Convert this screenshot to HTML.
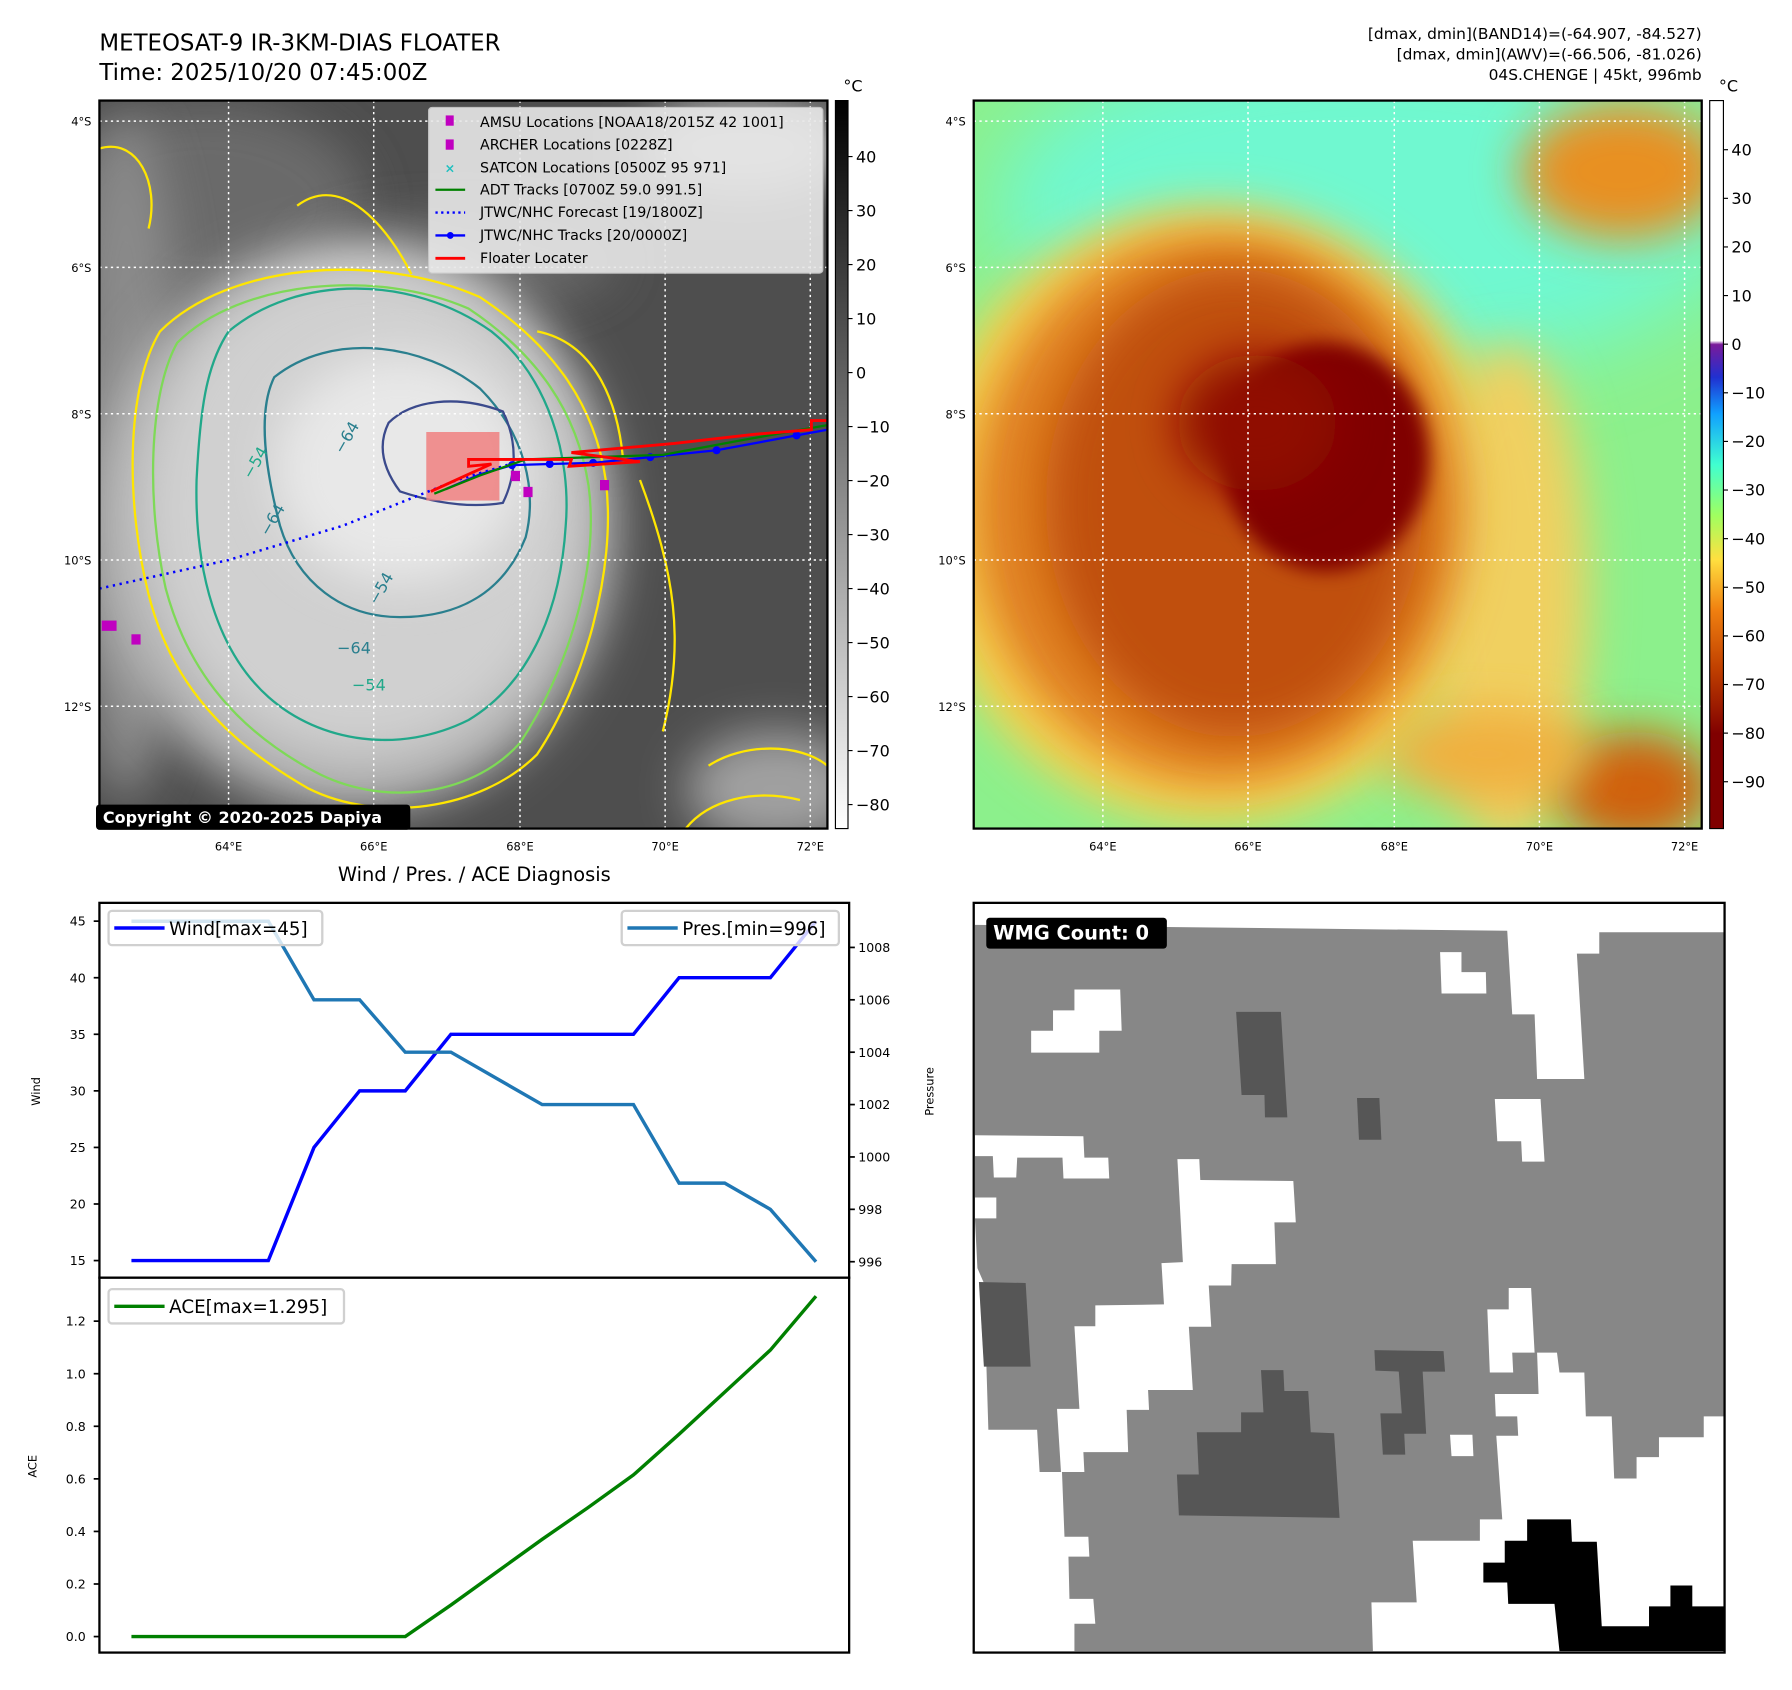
<!DOCTYPE html>
<html><head><meta charset="utf-8"><style>
html,body{margin:0;padding:0;background:#fff;}
svg{display:block;font-family:"DejaVu Sans","Liberation Sans",sans-serif;}
</style></head><body>
<svg id="root" width="1792" height="1690" viewBox="0 0 1568 1478.75" xmlns="http://www.w3.org/2000/svg">
<defs>
<filter id="blur8" x="-50%" y="-50%" width="200%" height="200%"><feGaussianBlur stdDeviation="8"/></filter>
<filter id="blur20" x="-50%" y="-50%" width="200%" height="200%"><feGaussianBlur stdDeviation="20"/></filter>
<filter id="blur35" x="-50%" y="-50%" width="200%" height="200%"><feGaussianBlur stdDeviation="35"/></filter>
<clipPath id="clipL"><rect x="87" y="88" width="637" height="637"/></clipPath>
<clipPath id="clipR"><rect x="852" y="88" width="637" height="637"/></clipPath>
<linearGradient id="cbGray" x1="0" y1="0" x2="0" y2="1"><stop offset="0" stop-color="#000"/><stop offset="1" stop-color="#fff"/></linearGradient>
<linearGradient id="cbJet" x1="0" y1="0" x2="0" y2="1">
<stop offset="0" stop-color="#fff"/><stop offset="0.33" stop-color="#fff"/>
<stop offset="0.335" stop-color="#7a1a9a"/><stop offset="0.38" stop-color="#2030d0"/>
<stop offset="0.43" stop-color="#10a0ff"/><stop offset="0.5" stop-color="#40ffd0"/>
<stop offset="0.57" stop-color="#a0ff60"/><stop offset="0.63" stop-color="#ffe040"/>
<stop offset="0.7" stop-color="#f08010"/><stop offset="0.78" stop-color="#c04000"/>
<stop offset="0.87" stop-color="#800000"/><stop offset="1" stop-color="#800000"/></linearGradient>
</defs>

<text x="87" y="44" font-size="20">METEOSAT-9 IR-3KM-DIAS FLOATER</text>
<text x="87" y="70" font-size="20">Time: 2025/10/20 07:45:00Z</text>
<g font-size="13.5" text-anchor="end">
<text x="1489" y="34">[dmax, dmin](BAND14)=(-64.907, -84.527)</text>
<text x="1489" y="52">[dmax, dmin](AWV)=(-66.506, -81.026)</text>
<text x="1489" y="70">04S.CHENGE | 45kt, 996mb</text>
</g>

<!-- LEFT MAP -->
<g clip-path="url(#clipL)">
<rect x="87" y="88" width="637" height="637" fill="#4e4e4e"/>
<ellipse cx="180" cy="180" rx="140" ry="90" fill="#6a6a6a" filter="url(#blur20)"/>
<ellipse cx="400" cy="230" rx="140" ry="40" fill="#666" filter="url(#blur20)"/>
<ellipse cx="110" cy="400" rx="50" ry="300" fill="#8a8a8a" filter="url(#blur20)"/>
<ellipse cx="680" cy="690" rx="80" ry="50" fill="#a0a0a0" filter="url(#blur20)"/>
<ellipse cx="310" cy="460" rx="230" ry="250" fill="#b4b4b4" filter="url(#blur20)"/>
<ellipse cx="315" cy="445" rx="190" ry="215" fill="#d0d0d0" filter="url(#blur20)"/>
<ellipse cx="350" cy="410" rx="110" ry="100" fill="#e8e8e8" filter="url(#blur20)"/>
<ellipse cx="650" cy="130" rx="90" ry="40" fill="#c0c0c0" filter="url(#blur20)"/>
<g fill="none" stroke-width="2">
<path d="M140,290 C200,230 330,220 420,260 C480,300 520,350 530,420 C540,500 510,600 470,660 C420,710 330,720 270,690 C200,650 150,600 130,520 C110,440 110,340 140,290 Z" stroke="#ffe600"/>
<path d="M155,300 C210,245 330,235 410,270 C470,310 505,360 515,425 C525,500 495,590 455,650 C410,700 330,705 275,675 C210,640 165,590 145,515 C128,440 130,345 155,300 Z" stroke="#7ed957"/>
<path d="M200,290 C260,240 360,240 430,290 C480,330 500,400 495,460 C490,540 460,600 410,630 C350,660 280,650 235,610 C190,570 170,500 172,420 C175,360 180,320 200,290 Z" stroke="#21a88a"/>
<path d="M240,330 C290,290 370,300 420,340 C460,380 470,430 460,470 C440,520 400,540 350,540 C300,540 260,510 245,460 C232,410 225,360 240,330 Z" stroke="#2a7f8e"/>
<path d="M340,370 C360,350 400,345 440,360 C455,390 450,420 440,440 C410,445 380,440 350,430 C335,410 330,390 340,370 Z" stroke="#3b4a8c"/>
<path d="M87,130 C120,120 140,160 130,200 M260,180 C300,150 340,200 360,240 M470,290 C520,300 540,350 545,400 M560,420 C590,500 600,560 580,640" stroke="#ffe600"/>
<path d="M620,670 C650,650 700,650 724,670 M600,725 C620,700 660,690 700,700" stroke="#ffe600"/>
</g>
<g font-size="14" fill="#2a7f8e">
<text x="300" y="398" transform="rotate(-60 300 398)">−64</text>
<text x="235" y="470" transform="rotate(-60 235 470)">−64</text>
<text x="330" y="530" transform="rotate(-60 330 530)">−54</text>
<text x="295" y="572">−64</text>
<text x="308" y="604" fill="#21a88a">−54</text>
<text x="220" y="420" transform="rotate(-60 220 420)" fill="#21a88a">−54</text>
</g>
</g>
<g stroke="#fff" stroke-width="1.3" stroke-dasharray="2,3" fill="none">
<line x1="87" y1="106" x2="724" y2="106"/><line x1="87" y1="234" x2="724" y2="234"/><line x1="87" y1="362" x2="724" y2="362"/><line x1="87" y1="490" x2="724" y2="490"/><line x1="87" y1="618" x2="724" y2="618"/>
<line x1="200" y1="88" x2="200" y2="725"/><line x1="327" y1="88" x2="327" y2="725"/><line x1="455" y1="88" x2="455" y2="725"/><line x1="582" y1="88" x2="582" y2="725"/><line x1="709" y1="88" x2="709" y2="725"/>
</g>
<g clip-path="url(#clipL)">
<rect x="373" y="378" width="64" height="60" fill="#f08080" opacity="0.85"/>
<polyline points="87,515 200,490 300,460 400,420 450,405" fill="none" stroke="#0000ff" stroke-width="2.2" stroke-dasharray="2,4"/>
<polyline points="390,428 420,415 448,407 481,406 519,405 569,400 627,394 697,381 724,376" fill="none" stroke="#0000ff" stroke-width="2"/>
<g fill="#0000ff"><circle cx="448" cy="407" r="3.5"/><circle cx="481" cy="406" r="3.5"/><circle cx="519" cy="405" r="3.5"/><circle cx="569" cy="400" r="3.5"/><circle cx="627" cy="394" r="3.5"/><circle cx="697" cy="381" r="3.5"/></g>
<polyline points="380,432 420,416 460,402 520,400 580,398 650,385 724,372" fill="none" stroke="#008000" stroke-width="2"/>
<polyline points="377,430 412,414 430,406 410,408 410,402 500,402 498,408 560,404 500,396 590,388 660,380 710,376 710,368 724,368" fill="none" stroke="#ff0000" stroke-width="2.5"/>
<g fill="#c000c0"><rect x="447" y="412" width="8" height="9"/><rect x="458" y="426" width="8" height="9"/><rect x="525" y="420" width="8" height="9"/><rect x="89" y="543" width="13" height="9"/><rect x="115" y="555" width="8" height="9"/></g>
</g>
<rect x="87" y="88" width="637" height="637" fill="none" stroke="#000" stroke-width="2"/>
<g>
<rect x="375" y="94" width="345" height="145" fill="#e8e8e8" opacity="0.9" rx="3" stroke="#ccc"/>
<g font-size="12.5">
<rect x="390" y="101" width="7" height="9" fill="#c000c0"/><text x="420" y="111">AMSU Locations [NOAA18/2015Z 42 1001]</text>
<rect x="390" y="122" width="7" height="9" fill="#c000c0"/><text x="420" y="131">ARCHER Locations [0228Z]</text>
<text x="389" y="151" fill="#20c0c0" font-size="11" font-weight="bold">×</text><text x="420" y="151">SATCON Locations [0500Z 95 971]</text>
<line x1="381" y1="166" x2="407" y2="166" stroke="#008000" stroke-width="2"/><text x="420" y="170">ADT Tracks [0700Z 59.0 991.5]</text>
<line x1="381" y1="186" x2="407" y2="186" stroke="#0000ff" stroke-width="2" stroke-dasharray="2,3"/><text x="420" y="190">JTWC/NHC Forecast [19/1800Z]</text>
<line x1="381" y1="206" x2="407" y2="206" stroke="#0000ff" stroke-width="2"/><circle cx="394" cy="206" r="3" fill="#0000ff"/><text x="420" y="210">JTWC/NHC Tracks [20/0000Z]</text>
<line x1="381" y1="226" x2="407" y2="226" stroke="#ff0000" stroke-width="2.5"/><text x="420" y="230">Floater Locater</text>
</g></g>
<rect x="84" y="704" width="275" height="22" rx="3" fill="#000"/>
<text x="90" y="720" font-size="14" font-weight="bold" fill="#fff">Copyright © 2020-2025 Dapiya</text>
<g font-size="10" text-anchor="end">
<text x="80" y="110">4°S</text><text x="80" y="238">6°S</text><text x="80" y="366">8°S</text><text x="80" y="494">10°S</text><text x="80" y="622">12°S</text></g>
<g font-size="10" text-anchor="middle">
<text x="200" y="744">64°E</text><text x="327" y="744">66°E</text><text x="455" y="744">68°E</text><text x="582" y="744">70°E</text><text x="709" y="744">72°E</text></g>
<g>
<rect x="731" y="88" width="11" height="637" fill="url(#cbGray)" stroke="#000" stroke-width="1"/>
<text x="738" y="80" font-size="14">°C</text>
<g font-size="14" id="cbLticks"></g>
</g>

<!-- RIGHT MAP -->
<g clip-path="url(#clipR)">
<rect x="852" y="88" width="637" height="637" fill="#8cf08c"/>
<ellipse cx="1200" cy="180" rx="330" ry="150" fill="#70f8d0" filter="url(#blur35)"/>
<ellipse cx="1420" cy="150" rx="90" ry="60" fill="#e89020" filter="url(#blur20)"/>
<ellipse cx="1060" cy="450" rx="255" ry="270" fill="#f8d050" filter="url(#blur20)"/>
<ellipse cx="1320" cy="520" rx="70" ry="220" fill="#f0d060" filter="url(#blur20)"/>
<ellipse cx="1065" cy="445" rx="215" ry="240" fill="#e08020" filter="url(#blur20)"/>
<ellipse cx="1080" cy="440" rx="165" ry="205" fill="#c05008" filter="url(#blur20)"/>
<ellipse cx="1160" cy="400" rx="90" ry="100" fill="#800000" filter="url(#blur8)"/>
<ellipse cx="1100" cy="370" rx="70" ry="60" fill="#900800" filter="url(#blur20)"/>
<ellipse cx="1430" cy="690" rx="70" ry="50" fill="#d06010" filter="url(#blur20)"/>
<ellipse cx="1300" cy="660" rx="90" ry="40" fill="#f0b040" filter="url(#blur20)"/>
</g>
<g stroke="#fff" stroke-width="1.3" stroke-dasharray="2,3" fill="none">
<line x1="852" y1="106" x2="1489" y2="106"/><line x1="852" y1="234" x2="1489" y2="234"/><line x1="852" y1="362" x2="1489" y2="362"/><line x1="852" y1="490" x2="1489" y2="490"/><line x1="852" y1="618" x2="1489" y2="618"/>
<line x1="965" y1="88" x2="965" y2="725"/><line x1="1092" y1="88" x2="1092" y2="725"/><line x1="1220" y1="88" x2="1220" y2="725"/><line x1="1347" y1="88" x2="1347" y2="725"/><line x1="1474" y1="88" x2="1474" y2="725"/>
</g>
<rect x="852" y="88" width="637" height="637" fill="none" stroke="#000" stroke-width="2"/>
<g font-size="10" text-anchor="end">
<text x="845" y="110">4°S</text><text x="845" y="238">6°S</text><text x="845" y="366">8°S</text><text x="845" y="494">10°S</text><text x="845" y="622">12°S</text></g>
<g font-size="10" text-anchor="middle">
<text x="965" y="744">64°E</text><text x="1092" y="744">66°E</text><text x="1220" y="744">68°E</text><text x="1347" y="744">70°E</text><text x="1474" y="744">72°E</text></g>
<g>
<rect x="1496" y="88" width="12" height="637" fill="url(#cbJet)" stroke="#000" stroke-width="1"/>
<text x="1504" y="80" font-size="14">°C</text>
<g font-size="14" id="cbRticks"></g>
</g>

<text x="415" y="771" font-size="17" text-anchor="middle">Wind / Pres. / ACE Diagnosis</text>
<g id="chart"></g>

<g>
<rect x="852" y="790" width="657" height="656" fill="#fff"/>
<g transform="translate(840,778.75) scale(0.4353)">
<polygon fill="#878787" points="30,70 1100,82 1110,250 1155,250 1160,380 1255,380 1240,128 1285,128 1285,85 1535,85 1535,1058 1495,1058 1495,1100 1405,1100 1405,1140 1360,1140 1360,1183 1315,1183 1310,1058 1258,1058 1255,970 1205,970 1200,930 1160,930 1163,1013 1075,1013 1077,1058 1120,1058 1122,1097 1078,1097 1090,1265 1045,1265 1045,1308 910,1308 918,1432 827,1432 830,1530 230,1530 230,1475 272,1475 268,1425 220,1425 218,1340 260,1340 258,1300 210,1300 205,1170 160,1170 155,1085 57,1085 48,790 35,760 30,660"/>
<g fill="#fff">
<polygon points="143,283 187,283 187,242 230,242 230,200 322,200 325,283 280,283 280,327 143,327"/>
<polygon points="965,125 1008,125 1008,165 1057,165 1058,208 968,208"/>
<polygon points="1075,420 1167,420 1175,546 1130,546 1128,505 1080,505"/>
<polygon points="30,493 248,495 250,538 298,538 300,580 208,580 206,538 115,538 113,578 68,578 66,535 30,535"/>
<polygon points="30,618 73,618 73,660 30,660"/>
<polygon points="437,541 481,541 483,583 670,585 675,668 632,668 635,752 546,752 545,795 500,795 505,878 460,878 468,1005 378,1005 380,1045 335,1045 338,1130 248,1130 250,1170 203,1170 195,1043 240,1043 230,877 272,877 272,835 410,833 405,750 448,748"/>
<polygon points="985,1095 1030,1095 1032,1138 988,1138"/>
<polygon points="1060,843 1103,843 1103,800 1148,800 1155,930 1110,930 1112,970 1065,970"/>
</g>
<g fill="#565656">
<polygon points="555,245 645,245 658,457 613,457 612,412 566,412"/>
<polygon points="798,418 843,418 847,502 802,502"/>
<polygon points="38,788 132,790 142,958 48,958"/>
<polygon points="833,925 972,927 975,968 930,968 937,1093 893,1093 895,1135 850,1135 845,1052 888,1052 882,968 835,966"/>
<polygon points="605,965 650,965 652,1007 700,1007 705,1090 752,1092 763,1262 440,1257 436,1175 480,1175 476,1090 565,1090 565,1050 610,1050"/>
</g>
<polygon fill="#000" points="1140,1265 1228,1265 1230,1310 1280,1310 1290,1480 1385,1480 1385,1440 1428,1440 1428,1398 1472,1398 1472,1440 1535,1440 1535,1530 1205,1530 1195,1435 1102,1435 1100,1392 1052,1392 1052,1352 1095,1352 1095,1308 1140,1308"/>
</g>
<rect x="852" y="790" width="657" height="656" fill="none" stroke="#000" stroke-width="2"/>
<rect x="863" y="803" width="158" height="27" rx="3" fill="#000"/>
<text x="869" y="822" font-size="17" font-weight="bold" fill="#fff">WMG Count: 0</text>
</g>
</svg>
<script>
const windValues = [15,15,15,15,25,30,30,35,35,35,35,35,40,40,40,45];
const presValues = [1009,1009,1009,1009,1006,1006,1004,1004,1003,1002,1002,1002,999,999,998,996];
const aceValues = [0,0,0,0,0,0,0,0.12,0.245,0.37,0.49,0.615,0.77,0.93,1.09,1.295];
const windTicks = [15,20,25,30,35,40,45];
const presTicks = [996,998,1000,1002,1004,1006,1008];
const aceTicks = [0.0,0.2,0.4,0.6,0.8,1.0,1.2];
const irCbTicks = [40,30,20,10,0,-10,-20,-30,-40,-50,-60,-70,-80];
const awvCbTicks = [40,30,20,10,0,-10,-20,-30,-40,-50,-60,-70,-80,-90];

const NS='http://www.w3.org/2000/svg';
function mk(tag, attrs, parent){const e=document.createElementNS(NS,tag);for(const k in attrs)e.setAttribute(k,attrs[k]);parent.appendChild(e);return e;}
const chart=document.getElementById('chart');
const X0=87,X1=743,TOP0=790,MID=1118,BOT=1446;
const xs=i=>115+i*(714-115)/(windValues.length-1);
const yW=v=>1103-(v-15)*(1103-806)/30;
const yP=v=>1104-(v-996)*(1104-829)/12;
const yA=v=>1432-v*230;
function fmt(v){return v<0?'\u2212'+Math.abs(v):String(v);}

let r=mk('rect',{x:X0,y:TOP0,width:X1-X0,height:MID-TOP0,fill:'#fff',stroke:'#000','stroke-width':2},chart);


r=mk('rect',{x:X0,y:MID,width:X1-X0,height:BOT-MID,fill:'#fff',stroke:'#000','stroke-width':2},chart);



windTicks.forEach(t=>{const y=yW(t);
 const l=mk('line',{x1:X0-5,x2:X0,y1:y,y2:y,stroke:'#000','stroke-width':1.5},chart);
 
 
 const tx=mk('text',{x:X0-12,y:y+4,'font-size':11,'text-anchor':'end'},chart);tx.textContent=t;
 
 });
presTicks.forEach(t=>{const y=yP(t);
 const l=mk('line',{x1:X1,x2:X1+5,y1:y,y2:y,stroke:'#000','stroke-width':1.5},chart);
 
 
 const tx=mk('text',{x:X1+8,y:y+4,'font-size':11},chart);tx.textContent=t;
 
 });
aceTicks.forEach(t=>{const y=yA(t);
 const l=mk('line',{x1:X0-5,x2:X0,y1:y,y2:y,stroke:'#000','stroke-width':1.5},chart);
 
 
 const tx=mk('text',{x:X0-12,y:y+4,'font-size':11,'text-anchor':'end'},chart);tx.textContent=t.toFixed(1);
 
 });

let at=mk('text',{x:0,y:0,'font-size':10,'text-anchor':'middle',transform:'translate(35,955) rotate(-90)'},chart);at.textContent='Wind';


at=mk('text',{x:0,y:0,'font-size':10,'text-anchor':'middle',transform:'translate(817,955) rotate(-90)'},chart);at.textContent='Pressure';


at=mk('text',{x:0,y:0,'font-size':10,'text-anchor':'middle',transform:'translate(32,1283) rotate(-90)'},chart);at.textContent='ACE';



let p=mk('polyline',{points:windValues.map((v,i)=>xs(i)+','+yW(v)).join(' '),fill:'none',stroke:'#0000ff','stroke-width':3},chart);


p=mk('polyline',{points:presValues.map((v,i)=>xs(i)+','+yP(v)).join(' '),fill:'none',stroke:'#1f77b4','stroke-width':3},chart);


p=mk('polyline',{points:aceValues.map((v,i)=>xs(i)+','+yA(v)).join(' '),fill:'none',stroke:'#008000','stroke-width':3},chart);



function legend(x,y,w,color,label,name){
 const g=mk('g',{},chart);
 
 
 mk('rect',{x:x,y:y,width:w,height:30,rx:3,fill:'#fff','fill-opacity':0.8,stroke:'#d0d0d0','stroke-width':2},g);
 mk('line',{x1:x+5,x2:x+49,y1:y+15,y2:y+15,stroke:color,'stroke-width':3},g);
 const t=mk('text',{x:x+53,y:y+21,'font-size':16},g);t.textContent=label;
}
legend(95,797,187,'#0000ff','Wind[max=45]','wind-legend');
legend(544,797,190,'#1f77b4','Pres.[min=996]','pressure-legend');
legend(95,1128,206,'#008000','ACE[max=1.295]','ace-legend');

const cbl=document.getElementById('cbLticks');
irCbTicks.forEach(t=>{const y=137+(40-t)*4.725;
 mk('line',{x1:742,x2:746,y1:y,y2:y,stroke:'#000'},cbl);
 const tx=mk('text',{x:749,y:y+5},cbl);tx.textContent=fmt(t);
 
 });
const cbr=document.getElementById('cbRticks');
awvCbTicks.forEach(t=>{const y=131+(40-t)*4.254;
 mk('line',{x1:1508,x2:1512,y1:y,y2:y,stroke:'#000'},cbr);
 const tx=mk('text',{x:1515,y:y+5},cbr);tx.textContent=fmt(t);
 
 });
</script>
</body></html>
